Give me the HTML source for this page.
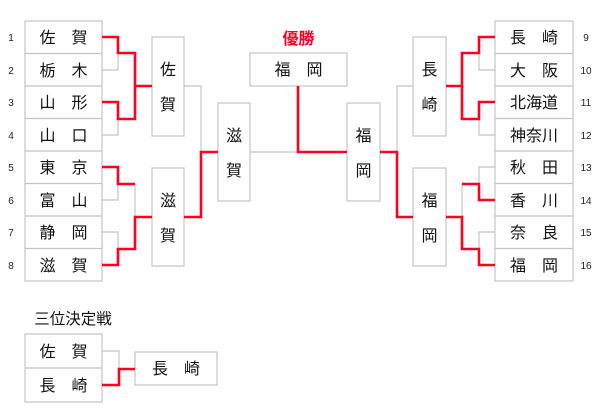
<!DOCTYPE html>
<html><head><meta charset="utf-8"><style>
html,body{margin:0;padding:0;background:#fff;width:600px;height:420px;overflow:hidden}
svg text{font-family:"Liberation Sans","Noto Sans CJK JP",sans-serif}
</style></head><body>
<svg width="600" height="420" xmlns="http://www.w3.org/2000/svg">
<g fill="#fff" stroke="#c4c4c4" stroke-width="1.2">
<rect x="25" y="21" width="77" height="260"/>
<rect x="495" y="21" width="78" height="260"/>
<rect x="152" y="37" width="32" height="99"/>
<rect x="152" y="168" width="32" height="98"/>
<rect x="218" y="103" width="32" height="98"/>
<rect x="250" y="53" width="97" height="33"/>
<rect x="347" y="103" width="33" height="98"/>
<rect x="413" y="37" width="33" height="99"/>
<rect x="413" y="168" width="33" height="98"/>
<rect x="25" y="334" width="77" height="68"/>
<rect x="135" y="352" width="82" height="33"/>
</g>
<g stroke="#c4c4c4" stroke-width="1.2">
<line x1="25" y1="53.5" x2="102" y2="53.5"/><line x1="25" y1="86" x2="102" y2="86"/>
<line x1="25" y1="118.5" x2="102" y2="118.5"/><line x1="25" y1="151" x2="102" y2="151"/>
<line x1="25" y1="183.5" x2="102" y2="183.5"/><line x1="25" y1="216" x2="102" y2="216"/>
<line x1="25" y1="248.5" x2="102" y2="248.5"/>
<line x1="495" y1="53.5" x2="573" y2="53.5"/><line x1="495" y1="86" x2="573" y2="86"/>
<line x1="495" y1="118.5" x2="573" y2="118.5"/><line x1="495" y1="151" x2="573" y2="151"/>
<line x1="495" y1="183.5" x2="573" y2="183.5"/><line x1="495" y1="216" x2="573" y2="216"/>
<line x1="495" y1="248.5" x2="573" y2="248.5"/>
<line x1="25" y1="368" x2="102" y2="368"/>
</g>
<g fill="none" stroke="#c4c4c4" stroke-width="1.2">
<polyline points="102,70 118,70 118,53"/>
<polyline points="102,135 118,135 118,119"/>
<polyline points="135,53 135,86"/>
<polyline points="102,200 118,200 118,184"/>
<polyline points="102,232 118,232 118,249"/>
<polyline points="135,184 135,217"/>
<polyline points="184,86 201,86 201,152"/>
<polyline points="250,152 298,152 298,86"/>
<polyline points="380,152 397,152 397,86 413,86"/>
<polyline points="495,70 479,70 479,53"/>
<polyline points="495,135 479,135 479,119"/>
<polyline points="462,86 462,119"/>
<polyline points="495,167 479,167 479,184"/>
<polyline points="495,232 479,232 479,249"/>
<polyline points="462,184 462,217"/>
<polyline points="102,351 119,351 119,369"/>
</g>
<g fill="none" stroke="#ff0022" stroke-width="2.6">
<polyline points="102,37 118,37 118,53 135,53 135,86 152,86"/>
<polyline points="102,102 118,102 118,119 135,119 135,86"/>
<polyline points="102,167 118,167 118,184 135,184"/>
<polyline points="102,265 118,265 118,249 135,249 135,217 152,217"/>
<polyline points="184,217 201,217 201,152 218,152"/>
<polyline points="298,86 298,152 347,152"/>
<polyline points="380,152 397,152 397,217 413,217"/>
<polyline points="446,86 462,86 462,53 479,53 479,37 495,37"/>
<polyline points="462,86 462,119 479,119 479,102 495,102"/>
<polyline points="462,184 479,184 479,200 495,200"/>
<polyline points="446,217 462,217 462,249 479,249 479,265 495,265"/>
<polyline points="102,385 119,385 119,369 135,369"/>
</g>
<g font-size="16" fill="#111" text-anchor="middle">
<text x="63.5" y="43">佐　賀</text><text x="63.5" y="76">栃　木</text>
<text x="63.5" y="108">山　形</text><text x="63.5" y="141">山　口</text>
<text x="63.5" y="173">東　京</text><text x="63.5" y="206">富　山</text>
<text x="63.5" y="238">静　岡</text><text x="63.5" y="271">滋　賀</text>
<text x="534" y="43">長　崎</text><text x="534" y="76">大　阪</text>
<text x="534" y="108">北海道</text><text x="534" y="141">神奈川</text>
<text x="534" y="173">秋　田</text><text x="534" y="206">香　川</text>
<text x="534" y="238">奈　良</text><text x="534" y="271">福　岡</text>
<text x="168" y="75">佐</text><text x="168" y="110">賀</text>
<text x="168" y="206">滋</text><text x="168" y="241">賀</text>
<text x="234" y="141">滋</text><text x="234" y="176">賀</text>
<text x="298.5" y="75">福　岡</text>
<text x="363.5" y="141">福</text><text x="363.5" y="176">岡</text>
<text x="429.5" y="75">長</text><text x="429.5" y="110">崎</text>
<text x="429.5" y="206">福</text><text x="429.5" y="241">岡</text>
<text x="63.5" y="357">佐　賀</text><text x="63.5" y="391">長　崎</text>
<text x="176" y="374">長　崎</text>
</g>
<text x="73" y="324" font-size="15.5" fill="#111" text-anchor="middle">三位決定戦</text>
<text x="298.5" y="44" font-size="16" font-weight="bold" fill="#ff0022" text-anchor="middle">優勝</text>
<g font-size="10" fill="#222" text-anchor="middle">
<text x="11" y="41">1</text><text x="11" y="74">2</text><text x="11" y="106">3</text><text x="11" y="139">4</text>
<text x="11" y="171">5</text><text x="11" y="204">6</text><text x="11" y="236">7</text><text x="11" y="269">8</text>
<text x="586" y="41">9</text><text x="586" y="74">10</text><text x="586" y="106">11</text><text x="586" y="139">12</text>
<text x="586" y="171">13</text><text x="586" y="204">14</text><text x="586" y="236">15</text><text x="586" y="269">16</text>
</g>
</svg>
</body></html>
